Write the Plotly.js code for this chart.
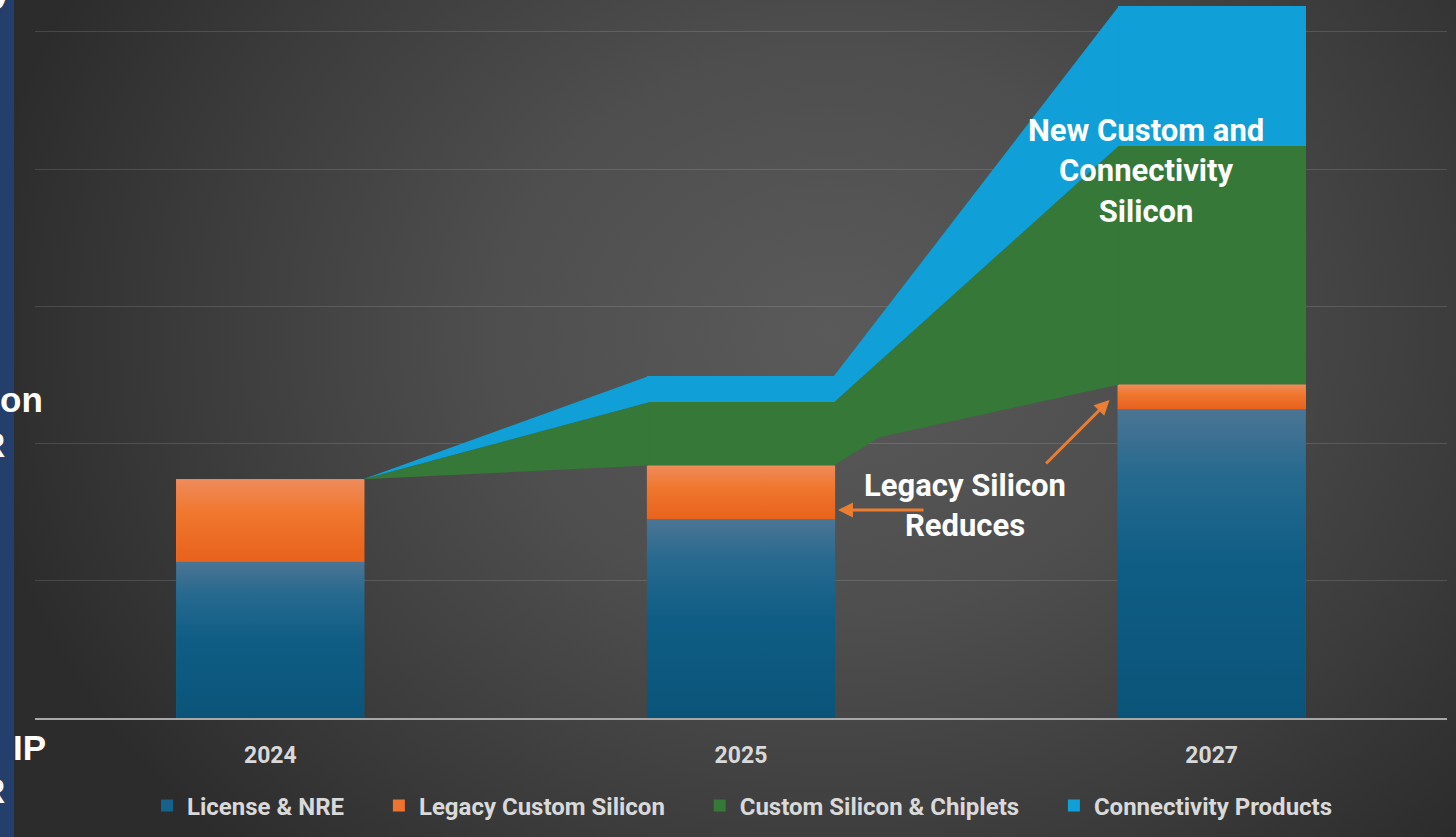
<!DOCTYPE html>
<html><head><meta charset="utf-8">
<script src="https://cdn.plot.ly/plotly-3.0.1.min.js"></script>
<style>
html,body{margin:0;padding:0;background:#333;}
#wrap{position:relative;width:1456px;height:837px;overflow:hidden;
background:
 linear-gradient(to right,#243f6b 0,#243f6b 14px,rgba(0,0,0,0) 14px),
 radial-gradient(860px 720px at 57% 40%, #5a5a5a 0%, #4e4e4e 40%, #3b3b3b 75%, #2c2c2c 100%);}
#chart{width:1456px;height:837px;}
</style></head><body>
<div id="wrap"><div id="chart"></div></div>
<script>
// ---- data (y in gridline units) ----
const years = ['2024', '2025', '2027'];
const licenseNRE = [1.14, 1.45, 2.25];
const legacySilicon = [0.60, 0.39, 0.18];
const customSilicon = [0, 0.46, 1.74];
const connectivity = [0, 0.19, 1.02];
const seriesNames = ['License & NRE', 'Legacy Custom Silicon', 'Custom Silicon & Chiplets', 'Connectivity Products'];

// ---- style ----
const colors = ['#15628a', '#ee7230', '#357838', '#109fd6'];
const licenseGrad = [[0, '#0b5479'], [0.5, '#0f5d85'], [0.8, '#286a8f'], [1, '#4c7594']];
const legacyGrad = [[0, '#e8621c'], [0.6, '#f0772e'], [1, '#ef8b5c']];
const BW = 0.4;
const legendPad = '\u00a0\u00a0\u00a0\u00a0\u00a0';
// shape of the green area's lower edge in the 2025 -> 2027 gap (fraction of gap, fraction of rise)
const baseKink = {gap: 1, t: 0.16, f: 0.35};
const pos = years.map((_, i) => i);

const traces = [];
// stacked bars (data + legend)
[licenseNRE, legacySilicon, customSilicon, connectivity].forEach((vals, k) => {
  traces.push({
    type: 'bar', x: pos, y: vals, width: BW,
    name: seriesNames[k] + (k < 3 ? legendPad : ''),
    marker: {color: colors[k], line: {width: 0}}, hoverinfo: 'y'
  });
});

// cumulative levels
const lvl0 = pos.map(() => 0);
const lvl1 = pos.map((_, i) => licenseNRE[i]);
const lvl2 = pos.map((_, i) => lvl1[i] + legacySilicon[i]);
const lvl3 = pos.map((_, i) => lvl2[i] + customSilicon[i]);
const lvl4 = pos.map((_, i) => lvl3[i] + connectivity[i]);

// gradient overlays on bar segments
function rectTrace(i, y0, y1, grad) {
  const x0 = pos[i] - BW / 2, x1 = pos[i] + BW / 2;
  return {
    type: 'scatter', mode: 'lines', x: [x0, x1, x1, x0, x0], y: [y0, y0, y1, y1, y0],
    fill: 'toself', line: {width: 0}, fillcolor: grad[1][1],
    fillgradient: {type: 'vertical', colorscale: grad},
    hoverinfo: 'skip', showlegend: false
  };
}
pos.forEach(i => {
  traces.push(rectTrace(i, lvl0[i], lvl1[i], licenseGrad));
  traces.push(rectTrace(i, lvl1[i], lvl2[i], legacyGrad));
});

// connector areas between bars (green and blue)
function connector(lo, hi, color, kink) {
  for (let i = 0; i < pos.length - 1; i++) {
    const xa = pos[i] + BW / 2 - 0.003, xb = pos[i + 1] - BW / 2 + 0.003;
    let xs = [xa, xb], los = [lo[i], lo[i + 1]], his = [hi[i], hi[i + 1]];
    if (kink && kink.gap === i) {
      const xk = xa + kink.t * (xb - xa);
      xs = [xa, xk, xb];
      los = [lo[i], lo[i] + kink.f * (lo[i + 1] - lo[i]), lo[i + 1]];
      his = [hi[i], hi[i] + kink.t * (hi[i + 1] - hi[i]), hi[i + 1]];
    }
    traces.push({
      type: 'scatter', mode: 'lines',
      x: xs.concat(xs.slice().reverse(), [xs[0]]),
      y: los.concat(his.slice().reverse(), [los[0]]),
      fill: 'toself', fillcolor: color, line: {width: 0},
      hoverinfo: 'skip', showlegend: false
    });
  }
}
connector(lvl2, lvl3, colors[2], baseKink);
connector(lvl3, lvl4, colors[3], null);

// pixel helpers for paper-positioned fragments
const L = 35, R = 9, T = 0, B = 119, W = 1456, H = 837;
const pw = W - L - R, ph = H - T - B;
const px = v => (v - L) / pw, py = v => (H - B - v) / ph;

const fragFont = {family: 'Liberation Sans, Arial, sans-serif', size: 35, color: '#ffffff', weight: 'bold'};
const fragments = [
  {text: 'y', x: 14, y: -11},
  {text: 'on', x: 45, y: 399},
  {text: 'R', x: 7, y: 444},
  {text: 'IP', x: 48, y: 747},
  {text: 'R', x: 7, y: 790}
];
const annFont = {family: 'Roboto, sans-serif', size: 31, color: '#ffffff', weight: 'bold'};
const annotations = fragments.map(f => ({
  text: f.text, xref: 'paper', yref: 'paper', x: px(f.x), y: py(f.y),
  xanchor: 'right', yanchor: 'middle', showarrow: false, font: fragFont
}));
annotations.push({
  text: 'New Custom and<br>Connectivity<br>Silicon', x: 1.86, y: 3.985, xref: 'x', yref: 'y',
  showarrow: false, font: annFont, align: 'center', xanchor: 'center', yanchor: 'middle'
});
annotations.push({
  text: 'Legacy Silicon<br>Reduces', x: 1.476, y: 1.55, xref: 'x', yref: 'y',
  showarrow: false, font: annFont, align: 'center', xanchor: 'center', yanchor: 'middle'
});
const arrowStyle = {text: '', showarrow: true, arrowhead: 2, arrowsize: 1, arrowwidth: 3,
  arrowcolor: '#ed7d31', axref: 'x', ayref: 'y', xref: 'x', yref: 'y', standoff: 0, startstandoff: 0};
annotations.push(Object.assign({}, arrowStyle, {x: 1.206, y: 1.516, ax: 1.391, ay: 1.516}));
annotations.push(Object.assign({}, arrowStyle, {x: 1.783, y: 2.318, ax: 1.645, ay: 1.844}));

const layout = {
  width: W, height: H,
  margin: {l: L, r: R, t: T, b: B, pad: 0},
  paper_bgcolor: 'rgba(0,0,0,0)', plot_bgcolor: 'rgba(0,0,0,0)',
  barmode: 'stack',
  showlegend: true,
  legend: {orientation: 'h', x: px(147), xanchor: 'left', y: py(806), yanchor: 'middle',
    traceorder: 'normal', bgcolor: 'rgba(0,0,0,0)',
    font: {family: 'Roboto, sans-serif', size: 24, color: '#d9d9d9', weight: 'bold'}},
  xaxis: {range: [-0.5, 2.5], tickvals: pos, ticktext: years, showgrid: false, zeroline: false,
    showline: true, linecolor: '#a8a8a8', linewidth: 1.5, ticks: '', ticklabelstandoff: 16,
    tickfont: {family: 'Roboto, sans-serif', size: 23, color: '#d9d9d9', weight: 'bold'}, fixedrange: true},
  yaxis: {range: [0, 5.233], dtick: 1, tick0: 0, showticklabels: false, zeroline: false, showline: false,
    gridcolor: 'rgba(255,255,255,0.13)', gridwidth: 1, fixedrange: true},
  annotations: annotations
};

Plotly.newPlot('chart', traces, layout, {displayModeBar: false, staticPlot: true});
</script>
</body></html>
